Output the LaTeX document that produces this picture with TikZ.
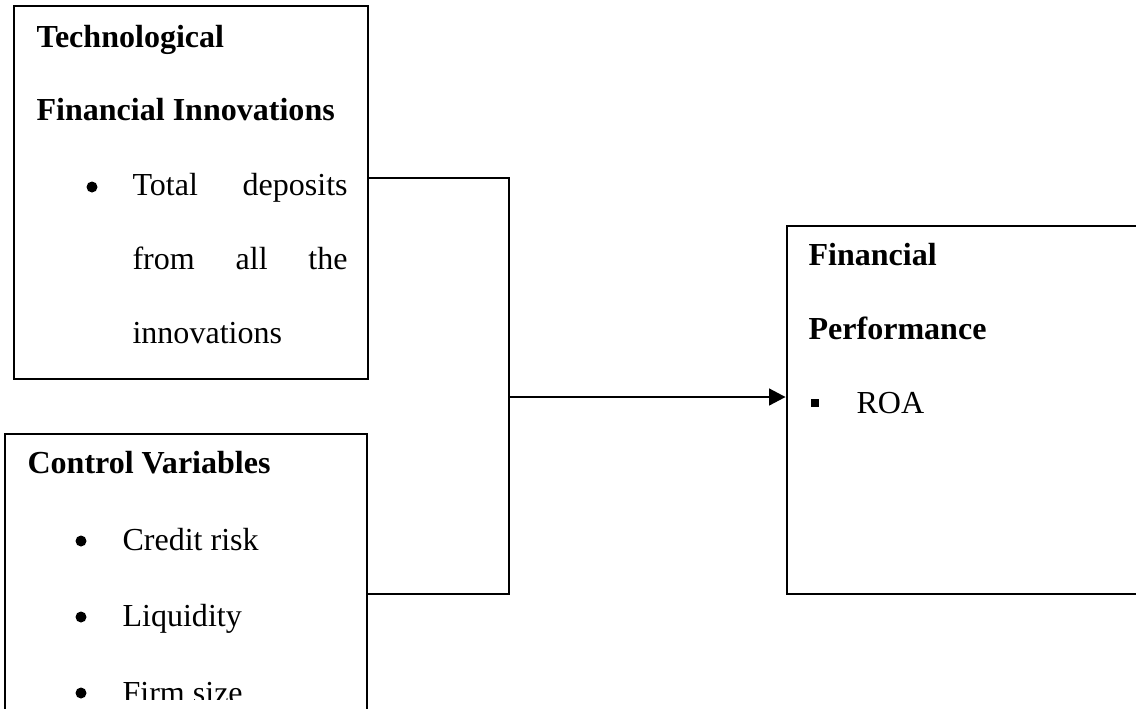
\documentclass[tikz,border=0pt]{standalone}
\usepackage{fontspec}
\setmainfont{Liberation Serif}
\usetikzlibrary{arrows.meta, positioning, fit, calc}
\tikzset{
  box/.style={rectangle, draw=black, line width=1pt, inner sep=0pt},
  txt/.style={anchor=base west, inner sep=0pt, font=\fontsize{11.65pt}{14pt}\selectfont},
  head/.style={txt, font=\fontsize{11.65pt}{14pt}\selectfont\bfseries},
  dot/.style={circle, fill=black, inner sep=0pt, minimum size=4pt},
  sqdot/.style={rectangle, fill=black, inner sep=0pt, minimum size=3pt},
  link/.style={line width=1pt},
  arrow/.style={-{Triangle[length=6pt, width=6pt]}, line width=1pt},
}
\newcommand{\spreadline}[1]{\makebox[78.2pt][s]{#1}}

\begin{document}
\begin{tikzpicture}[x=0.3636pt, y=-0.3636pt]
  \clip (0,0) rectangle (1136,708);
  % Boxes
  \node[box, fit={(14,6) (368,379)}] (tech) {};
  \node[box, fit={(5,434) (367,760)}] (ctrl) {};
  \node[box, fit={(787,226) (1180,594)}] (perf) {};

  % Technological financial innovations
  \node[head] (techA) at (36,47) {Technological};
  \node[head] (techB) at (36,120) {Financial Innovations};
  \node[dot] (techDot) at (92,187) {};
  \node[txt] (techC) at (132,195) {\spreadline{Total deposits}};
  \node[txt] (techD) at (132,269) {\spreadline{from all the}};
  \node[txt] (techE) at (132,343) {innovations};

  % Control variables
  \node[head] (ctrlA) at (27,473) {Control Variables};
  \foreach \y/\name/\lbl in {550/ctrlB/Credit risk, 626/ctrlC/Liquidity}{
    \node[dot] (\name Dot) at (81,\y-9) {};
    \node[txt] (\name) at (122,\y) {\lbl};
  }
  \begin{scope}
    \clip (0,0) rectangle (1136,699);
    \node[dot] (ctrlDDot) at (81,693) {};
    \node[txt] (ctrlD) at (122,703) {Firm size};
  \end{scope}

  % Financial performance
  \node[head] (perfA) at (808,265) {Financial};
  \node[head] (perfB) at (808,339) {Performance};
  \node[sqdot] (perfDot) at (815,403) {};
  \node[txt] (perfC) at (856,413) {ROA};

  % Connectors
  \coordinate (jtop) at (509,178);
  \coordinate (jmid) at (509,397);
  \coordinate (jbot) at (509,594);
  \draw[link] (tech.east |- jtop) -- (jtop) -- (jbot) -- (ctrl.east |- jbot);
  \draw[arrow] (jmid) -- (perf.west |- jmid);
\end{tikzpicture}
\end{document}
